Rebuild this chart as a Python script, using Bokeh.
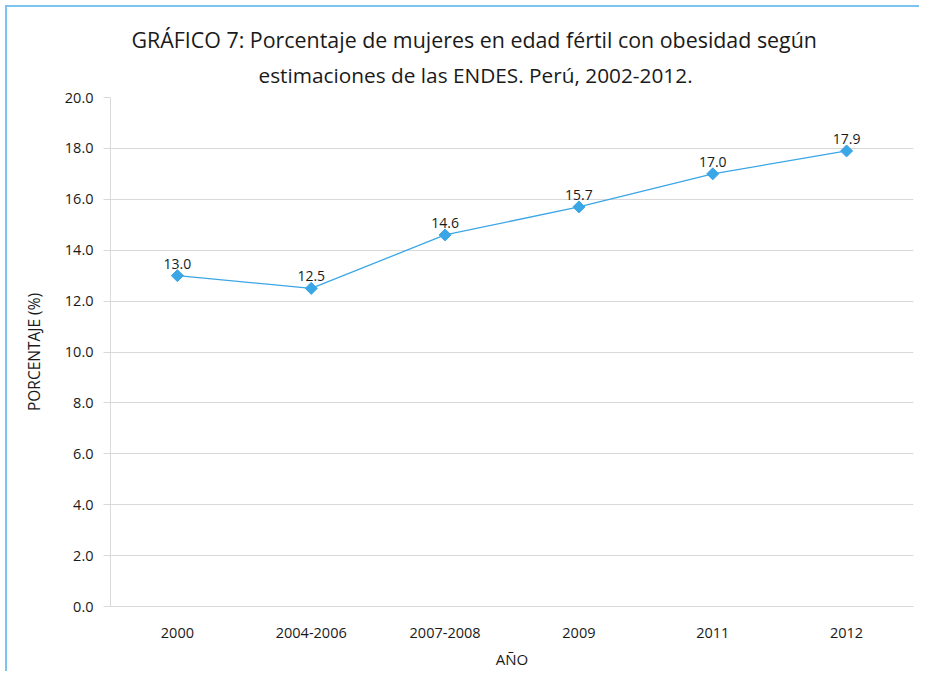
from bokeh.plotting import figure
from bokeh.models import ColumnDataSource, LabelSet, Title, NumeralTickFormatter, FixedTicker
from bokeh.core.properties import value
from bokeh.embed import file_html
from bokeh.resources import INLINE
import math

categories = ["2000", "2004-2006", "2007-2008", "2009", "2011", "2012"]
values = [13.0, 12.5, 14.6, 15.7, 17.0, 17.9]
value_labels = ["13.0", "12.5", "14.6", "15.7", "17.0", "17.9"]
y_ticks = [0, 2, 4, 6, 8, 10, 12, 14, 16, 18, 20]

title_line1 = "GRÁFICO 7: Porcentaje de mujeres en edad fértil con obesidad según"
title_line2 = "estimaciones de las ENDES. Perú, 2002-2012."

FONT = "Open Sans"
BLUE = "#3ba6e6"
GRID = "#d9d9d9"
TXT = "#1a1a1a"

src = ColumnDataSource(dict(cat=categories, val=values, lab=value_labels))

p = figure(x_range=categories, y_range=(0, 20),
           frame_width=803, frame_height=509,
           min_border_left=103, min_border_right=6, min_border_top=90, min_border_bottom=60,
           output_backend="svg", toolbar_location=None,
           background_fill_color="white", border_fill_color="white")
p.outline_line_color = None
p.styles = {"border-top": "2px solid #7cc3ee", "border-left": "2px solid #7cc3ee",
            "margin-left": "5px", "margin-top": "5px"}

# titles: p.title is the outer line, the added one sits closer to the frame
p.title.text = title_line1
p.title.align = "left"
p.title.offset = 21
p.title.text_font = FONT
p.title.text_font_size = "21.4px"
p.title.text_font_style = "normal"
p.title.text_color = TXT
p.title.text_line_height = 1.55
p.title.standoff = -7
t2 = Title(text=title_line2, align="left", offset=148, text_font=FONT,
           text_font_size="20.8px", text_font_style="normal", text_color=TXT,
           standoff=17)
p.add_layout(t2, "above")

p.line("cat", "val", source=src, line_color=BLUE, line_width=1.3)
p.scatter("cat", "val", source=src, marker="square", size=8.5, angle=math.pi / 4,
          fill_color=BLUE, line_color=BLUE)

labels = LabelSet(x="cat", y="val", text="lab", source=src, y_offset=7,
                  text_align="center", text_baseline="bottom",
                  text_font=value(FONT), text_font_size="14px", text_color=TXT)
p.add_layout(labels)

# y axis
p.yaxis.ticker = FixedTicker(ticks=y_ticks)
p.yaxis.formatter = NumeralTickFormatter(format="0.0")
p.yaxis.axis_label = "PORCENTAJE (%)"
p.yaxis.axis_label_text_font = FONT
p.yaxis.axis_label_text_font_size = "15.5px"
p.yaxis.axis_label_text_font_style = "normal"
p.yaxis.axis_label_text_color = TXT
p.yaxis.axis_label_standoff = 17
p.yaxis.major_label_text_font = FONT
p.yaxis.major_label_text_font_size = "14.5px"
p.yaxis.major_label_text_color = TXT
p.yaxis.major_label_standoff = 10
p.yaxis.axis_line_color = GRID
p.yaxis.major_tick_line_color = GRID
p.yaxis.major_tick_out = 7
p.yaxis.major_tick_in = 0
p.yaxis.minor_tick_line_color = None

# x axis
p.xaxis.axis_label = "AÑO"
p.xaxis.axis_label_text_font = FONT
p.xaxis.axis_label_text_font_size = "15px"
p.xaxis.axis_label_text_font_style = "normal"
p.xaxis.axis_label_text_color = TXT
p.xaxis.axis_label_standoff = 8
p.xaxis.major_label_text_font = FONT
p.xaxis.major_label_text_font_size = "14.5px"
p.xaxis.major_label_text_color = TXT
p.xaxis.major_label_standoff = 15
p.xaxis.axis_line_color = GRID
p.xaxis.major_tick_line_color = None
p.xaxis.minor_tick_line_color = None

p.xgrid.grid_line_color = None
p.ygrid.grid_line_color = GRID
p.ygrid.ticker = FixedTicker(ticks=y_ticks)

open("out.html", "w").write(file_html(p, INLINE))
